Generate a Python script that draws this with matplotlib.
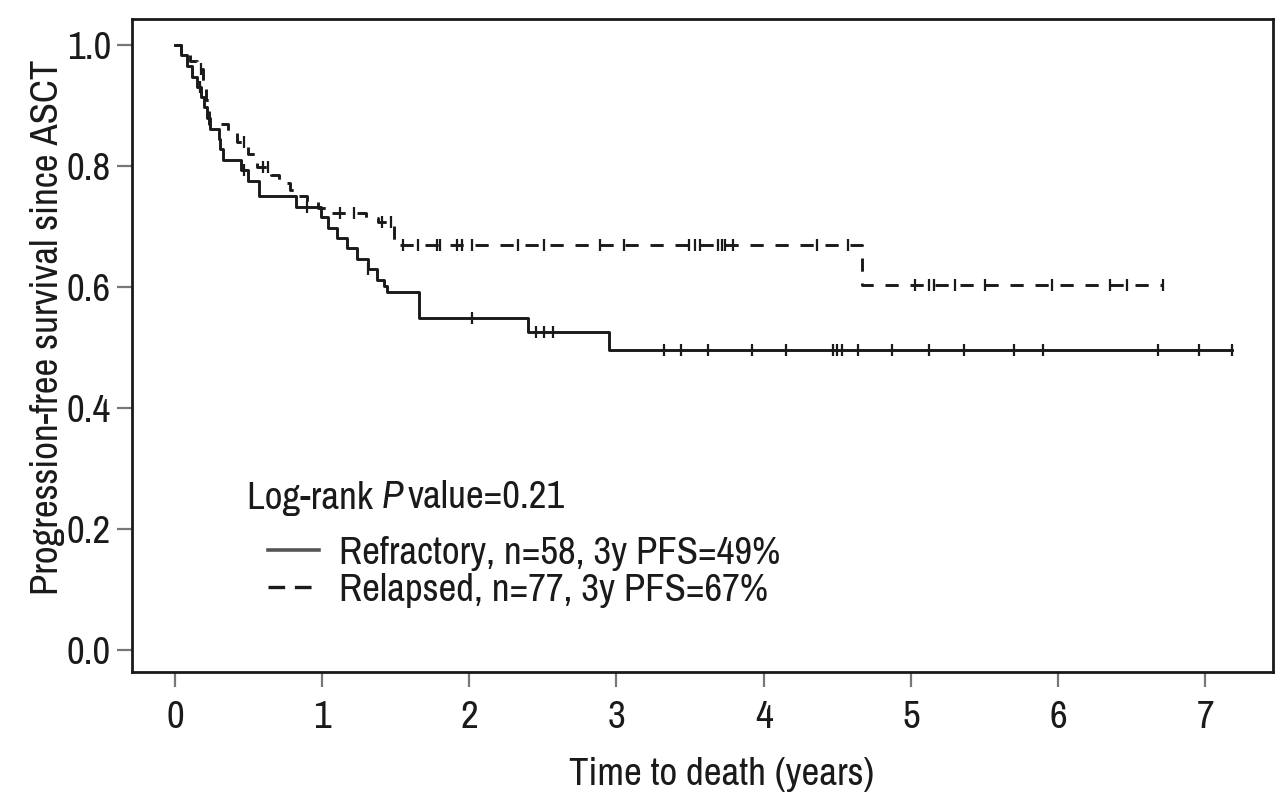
import matplotlib
matplotlib.use("Agg")
import matplotlib.pyplot as plt
import numpy as np
from matplotlib import font_manager
from matplotlib.lines import Line2D

# Kaplan-Meier steps (time in years, survival after the drop)
ref_times = [0.04, 0.08, 0.12, 0.15, 0.18, 0.20, 0.22, 0.24, 0.30, 0.31, 0.33, 0.45, 0.50, 0.57,
             0.82, 0.99, 1.04, 1.10, 1.17, 1.24, 1.31, 1.37, 1.42, 1.44, 1.66, 2.40, 2.95]
ref_surv = [0.983, 0.966, 0.948, 0.931, 0.914, 0.897, 0.879, 0.862, 0.845, 0.828, 0.810, 0.793,
            0.776, 0.750, 0.733, 0.716, 0.698, 0.681, 0.664, 0.647, 0.630, 0.612, 0.602, 0.592,
            0.549, 0.526, 0.496]
ref_end = 7.18
ref_censor = [0.17, 0.47, 0.90, 1.31, 2.02, 2.45, 2.51, 2.57, 3.32, 3.44, 3.62, 3.92, 4.15,
              4.47, 4.50, 4.53, 4.64, 4.87, 5.12, 5.36, 5.70, 5.90, 6.68, 6.96, 7.18]

rel_times = [0.04, 0.10, 0.15, 0.19, 0.21, 0.23, 0.36, 0.42, 0.50, 0.56, 0.65, 0.71, 0.78,
             0.84, 0.90, 0.97, 1.05, 1.30, 1.38, 1.49, 4.67]
rel_surv = [0.987, 0.974, 0.961, 0.935, 0.909, 0.870, 0.857, 0.840, 0.820, 0.798, 0.785, 0.772,
            0.760, 0.750, 0.740, 0.731, 0.722, 0.714, 0.707, 0.669, 0.603]
rel_end = 6.71
rel_censor = [0.18, 0.47, 0.60, 0.63, 1.12, 1.22, 1.41, 1.47, 1.55, 1.65, 1.78, 1.80, 1.92,
              1.95, 2.02, 2.33, 2.51, 2.89, 3.05, 3.49, 3.53, 3.57, 3.69, 3.72, 3.74, 3.79,
              4.36, 4.57, 5.03, 5.12, 5.16, 5.30, 5.50, 5.96, 6.35, 6.47, 6.71]

legend_labels = ["Refractory, n=58, 3y PFS=49%", "Relapsed, n=77, 3y PFS=67%"]

INK = "#1a1a1a"
DASHES = (9.5, 8.5)


def pick_narrow_font():
    """Look for a condensed sans face; the reference uses a Helvetica Condensed look."""
    for f in font_manager.fontManager.ttflist:
        name = f.name
        if "Narrow" in name or "Condensed" in name:
            return name, "normal"
    for f in font_manager.fontManager.ttflist:
        if f.stretch in ("condensed", "semi-condensed", 600, 700) and f.style == "normal":
            return f.name, "condensed"
    return None, None


narrow, stretch = pick_narrow_font()
if narrow:
    FAMILY = [narrow, "DejaVu Sans"]
    SIZE = 28
    plt.rcParams["font.stretch"] = stretch
else:
    FAMILY = ["Roboto", "DejaVu Sans"]
    SIZE = 24
plt.rcParams["font.family"] = FAMILY
plt.rcParams["lines.scale_dashes"] = False


def km_steps(times, surv, end):
    t = np.concatenate([[0.0], times, [end]])
    s = np.concatenate([[1.0], surv, [surv[-1]]])
    return t, s


def surv_at(times, surv, when):
    idx = np.searchsorted(times, when, side="right")
    vals = np.concatenate([[1.0], surv])
    return vals[idx]


fig = plt.figure(figsize=(12.8, 8.08), dpi=100)
ax = fig.add_axes([0.103, 0.168, 0.8915, 0.8085])

t, s = km_steps(ref_times, ref_surv, ref_end)
ax.step(t, s, where="post", color=INK, lw=2.1)
ax.plot(ref_censor, surv_at(ref_times, ref_surv, ref_censor), ls="none", marker="|",
        ms=9, mew=1.6, color=INK)

t, s = km_steps(rel_times, rel_surv, rel_end)
ax.step(t, s, where="post", color=INK, lw=2.1, dashes=DASHES)
ax.plot(rel_censor, surv_at(rel_times, rel_surv, rel_censor), ls="none", marker="|",
        ms=9, mew=1.6, color=INK)

ax.set_xlim(-0.292, 7.459)
ax.set_ylim(-0.036, 1.043)
ax.set_xticks(range(0, 8))
ax.set_yticks([0.0, 0.2, 0.4, 0.6, 0.8, 1.0])
ax.set_yticklabels(["0.0", "0.2", "0.4", "0.6", "0.8", "1.0"])
ax.tick_params(axis="both", direction="out", length=11, width=1.6, color="#777777",
               labelsize=SIZE, labelcolor=INK)
ax.tick_params(axis="x", pad=9)
ax.tick_params(axis="y", pad=4)
for sp in ax.spines.values():
    sp.set_linewidth(2.0)
    sp.set_color(INK)

ax.set_xlabel("Time to death (years)", fontsize=SIZE, color=INK)
ax.set_ylabel("Progression-free survival since ASCT", fontsize=SIZE, color=INK)
ax.xaxis.set_label_coords(0.517, -0.129)
ax.yaxis.set_label_coords(-0.059, 0.528)

# "Log-rank P value=0.21" with an italic P, built from three text pieces
x0, y0 = 247 / 1280, 1 - 498 / 808
t1 = fig.text(x0, y0, "Log-rank ", fontsize=SIZE, color=INK, va="center", ha="left")
fig.canvas.draw()
r = fig.canvas.get_renderer()
bb = t1.get_window_extent(r)
t2 = fig.text(bb.x1 / 1280, y0, "P", fontsize=SIZE, color=INK, va="center", ha="left",
              style="italic")
bb2 = t2.get_window_extent(r)
fig.text(bb2.x1 / 1280 + 5 / 1280, y0, "value=0.21", fontsize=SIZE, color=INK,
         va="center", ha="left")

handles = [Line2D([], [], color="#555555", lw=2.6),
           Line2D([], [], color=INK, lw=2.4, dashes=(12, 7))]
ax.legend(handles, legend_labels, loc="upper left",
          bbox_to_anchor=(268 / 1280, 1 - 536 / 808), bbox_transform=fig.transFigure,
          frameon=False, fontsize=SIZE, handlelength=1.3, handletextpad=0.52,
          labelspacing=0.05, borderpad=0, borderaxespad=0, labelcolor=INK)

fig.savefig("out.png", dpi=100)
